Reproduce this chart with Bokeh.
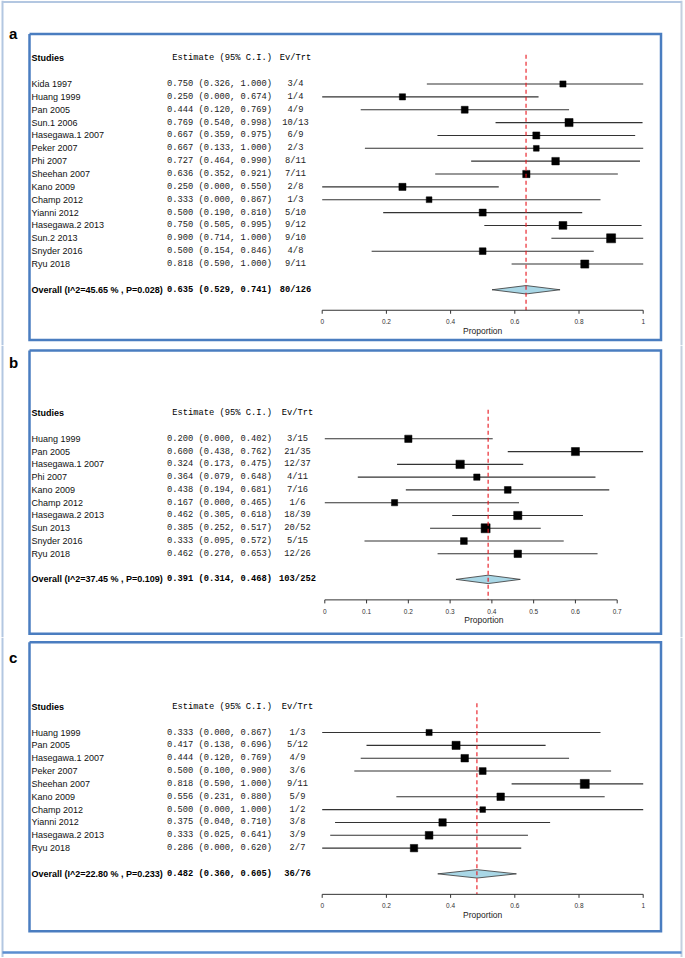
import math
from bokeh.plotting import figure
from bokeh.layouts import column
from bokeh.models import Range1d
from bokeh.core.properties import value
from bokeh.embed import file_html
from bokeh.resources import INLINE

# ---------------- data ----------------
a_studies = ["Kida 1997", "Huang  1999", "Pan  2005", "Sun.1 2006", "Hasegawa.1 2007",
             "Peker 2007", "Phi 2007", "Sheehan 2007", "Kano 2009", "Champ 2012",
             "Yianni 2012", "Hasegawa.2 2013", "Sun.2 2013", "Snyder 2016", "Ryu 2018"]
a_est = [0.750, 0.250, 0.444, 0.769, 0.667, 0.667, 0.727, 0.636, 0.250, 0.333, 0.500, 0.750, 0.900, 0.500, 0.818]
a_lo = [0.326, 0.000, 0.120, 0.540, 0.359, 0.133, 0.464, 0.352, 0.000, 0.000, 0.190, 0.505, 0.714, 0.154, 0.590]
a_hi = [1.000, 0.674, 0.769, 0.998, 0.975, 1.000, 0.990, 0.921, 0.550, 0.867, 0.810, 0.995, 1.000, 0.846, 1.000]
a_ev = [3, 1, 4, 10, 6, 2, 8, 7, 2, 1, 5, 9, 9, 4, 9]
a_n = [4, 4, 9, 13, 9, 3, 11, 11, 8, 3, 10, 12, 10, 8, 11]
a_overall = [0.635, 0.529, 0.741]
a_overall_label = "Overall (I^2=45.65 % , P=0.028)"
a_overall_counts = "80/126"
a_ticks = [0, 0.2, 0.4, 0.6, 0.8, 1.0]
a_tick_labels = ["0", "0.2", "0.4", "0.6", "0.8", "1"]

b_studies = ["Huang 1999", "Pan 2005", "Hasegawa.1 2007", "Phi 2007", "Kano 2009",
             "Champ 2012", "Hasegawa.2 2013", "Sun 2013", "Snyder 2016", "Ryu 2018"]
b_est = [0.200, 0.600, 0.324, 0.364, 0.438, 0.167, 0.462, 0.385, 0.333, 0.462]
b_lo = [0.000, 0.438, 0.173, 0.079, 0.194, 0.000, 0.305, 0.252, 0.095, 0.270]
b_hi = [0.402, 0.762, 0.475, 0.648, 0.681, 0.465, 0.618, 0.517, 0.572, 0.653]
b_ev = [3, 21, 12, 4, 7, 1, 18, 20, 5, 12]
b_n = [15, 35, 37, 11, 16, 6, 39, 52, 15, 26]
b_overall = [0.391, 0.314, 0.468]
b_overall_label = "Overall (I^2=37.45 % , P=0.109)"
b_overall_counts = "103/252"
b_ticks = [0, 0.1, 0.2, 0.3, 0.4, 0.5, 0.6, 0.7]
b_tick_labels = ["0", "0.1", "0.2", "0.3", "0.4", "0.5", "0.6", "0.7"]

c_studies = ["Huang 1999", "Pan  2005", "Hasegawa.1 2007", "Peker 2007", "Sheehan 2007",
             "Kano 2009", "Champ 2012", "Yianni 2012", "Hasegawa.2 2013", "Ryu 2018"]
c_est = [0.333, 0.417, 0.444, 0.500, 0.818, 0.556, 0.500, 0.375, 0.333, 0.286]
c_lo = [0.000, 0.138, 0.120, 0.100, 0.590, 0.231, 0.000, 0.040, 0.025, 0.000]
c_hi = [0.867, 0.696, 0.769, 0.900, 1.000, 0.880, 1.000, 0.710, 0.641, 0.620]
c_ev = [1, 5, 4, 3, 9, 5, 1, 3, 3, 2]
c_n = [3, 12, 9, 6, 11, 9, 2, 8, 9, 7]
c_overall = [0.482, 0.360, 0.605]
c_overall_label = "Overall (I^2=22.80 % , P=0.233)"
c_overall_counts = "36/76"
c_ticks = [0, 0.2, 0.4, 0.6, 0.8, 1.0]
c_tick_labels = ["0", "0.2", "0.4", "0.6", "0.8", "1"]

# ---------------- styling / layout ----------------
W = 685
SANS = value("Liberation Sans")
MONO = value("Liberation Mono")
BOX_COLOR = "#4a7dc0"
FRAME_LIGHT = "#b3c7e1"
FRAME_DARK = "#5b8ed0"


def make_panel(letter, studies, est, lo, hi, ev, n, overall, overall_label, overall_counts,
               ticks, tick_labels, fig_top, fig_h, x0, sx, y_first, dy,
               box_top, box_bottom, letter_base, evtrt_x, draw_top=False, draw_bottom=False):
    def X(px):
        return (px - x0) / sx

    def Y(py):
        return (py - y_first) / dy

    p = figure(width=W, height=fig_h, output_backend="svg", toolbar_location=None,
               title=None, x_axis_type=None, y_axis_type=None, min_border=0,
               x_range=Range1d(X(0), X(W)),
               y_range=Range1d(Y(fig_top + fig_h), Y(fig_top)))
    p.outline_line_color = None
    p.background_fill_color = "white"
    p.border_fill_color = "white"
    p.grid.visible = False

    k = len(studies)
    rows = list(range(k))
    overall_row = k + 1
    axis_row = overall_row + 20.5 / dy

    # outer frame (page border)
    p.line([X(2), X(2)], [Y(fig_top), Y(fig_top + fig_h)], line_color=FRAME_LIGHT, line_width=2)
    p.line([X(681), X(681)], [Y(fig_top), Y(fig_top + fig_h)], line_color="#c4d0df", line_width=2)
    if draw_top:
        p.line([X(2), X(681)], [Y(1.5), Y(1.5)], line_color=FRAME_LIGHT, line_width=2)
    if draw_bottom:
        p.line([X(2), X(681)], [Y(952), Y(952)], line_color=FRAME_DARK, line_width=2.5)

    # panel box
    L, R = X(29), X(660.5)
    T, B = Y(box_top), Y(box_bottom)
    p.line([L, R, R, L, L], [T, T, B, B, T], line_color=BOX_COLOR, line_width=2.5,
           line_join="miter")

    # panel letter
    p.text(x=[X(8.5)], y=[Y(letter_base)], text=[letter], text_font=SANS,
           text_font_size="15px", text_font_style="bold", text_align="left",
           text_baseline="alphabetic", text_color="black")

    # header
    hdr = -2
    p.text(x=[X(31)], y=[hdr], text=["Studies"], text_font=SANS, text_font_size="9px",
           text_font_style="bold", text_align="left", text_baseline="middle")
    p.text(x=[X(271.5)], y=[hdr], text=["Estimate (95% C.I.)"], text_font=MONO,
           text_font_size="8.75px", text_align="right", text_baseline="middle")
    p.text(x=[X(evtrt_x)], y=[hdr], text=["Ev/Trt"], text_font=MONO,
           text_font_size="8.75px", text_align="center", text_baseline="middle")

    # study rows text
    est_txt = ["%.3f (%.3f, %.3f)" % (e, l, h) for e, l, h in zip(est, lo, hi)]
    evn_txt = ["%d/%d" % (a, b) for a, b in zip(ev, n)]
    p.text(x=[X(31)] * k, y=rows, text=studies, text_font=SANS, text_font_size="9px",
           text_align="left", text_baseline="middle", text_color="#111111")
    p.text(x=[X(271.5)] * k, y=rows, text=est_txt, text_font=MONO, text_font_size="8.75px",
           text_align="right", text_baseline="middle", text_color="#222222")
    p.text(x=[X(evtrt_x)] * k, y=rows, text=evn_txt, text_font=MONO, text_font_size="8.75px",
           text_align="center", text_baseline="middle", text_color="#222222")

    # overall row text
    oe, ol, oh = overall
    p.text(x=[X(31)], y=[overall_row], text=[overall_label], text_font=SANS,
           text_font_size="9px", text_font_style="bold", text_align="left",
           text_baseline="middle")
    p.text(x=[X(271.5)], y=[overall_row], text=["%.3f (%.3f, %.3f)" % (oe, ol, oh)],
           text_font=MONO, text_font_size="8.75px", text_font_style="bold",
           text_align="right", text_baseline="middle")
    p.text(x=[X(evtrt_x)], y=[overall_row], text=[overall_counts], text_font=MONO,
           text_font_size="8.75px", text_font_style="bold", text_align="center",
           text_baseline="middle")

    # confidence intervals
    p.segment(x0=lo, y0=rows, x1=hi, y1=rows, line_color="#333333", line_width=1.1)

    # squares sized by inverse-variance weight
    w = [1.0 / (e * (1 - e) / m) for e, m in zip(est, n)]
    wmax = max(w)
    sizes = [4 + 5 * math.sqrt(v / wmax) for v in w]
    p.scatter(x=est, y=rows, marker="square", size=sizes, fill_color="black",
              line_color="black", line_width=0.5)

    # overall diamond
    h = 4.2 / dy
    p.patch(x=[ol, oe, oh, oe], y=[overall_row, overall_row - h, overall_row, overall_row + h],
            fill_color="#a9d7e6", line_color="#333333", line_width=0.8)

    # dashed summary line
    p.line([oe, oe], [hdr - 3.5 / dy, axis_row], line_color="#e8141c", line_width=1.1,
           line_dash="4 3")

    # x axis
    p.line([ticks[0], ticks[-1]], [axis_row, axis_row], line_color="#333333", line_width=1)
    p.segment(x0=ticks, y0=[axis_row] * len(ticks), x1=ticks,
              y1=[axis_row + 3.5 / dy] * len(ticks), line_color="#333333", line_width=1)
    p.text(x=ticks, y=[axis_row + 11.5 / dy] * len(ticks), text=tick_labels, text_font=SANS,
           text_font_size="6.5px", text_align="center", text_baseline="middle",
           text_color="#333333")
    xmid = (min(lo) + max(hi)) / 2
    p.text(x=[xmid], y=[axis_row + 20.5 / dy], text=["Proportion"], text_font=SANS,
           text_font_size="8.5px", text_align="center", text_baseline="middle",
           text_color="#222222")
    return p


pa = make_panel("a", a_studies, a_est, a_lo, a_hi, a_ev, a_n, a_overall, a_overall_label,
                a_overall_counts, a_ticks, a_tick_labels,
                fig_top=0, fig_h=345, x0=321.7, sx=321.0, y_first=83.5, dy=12.86,
                box_top=33.5, box_bottom=339.5, letter_base=33.3, evtrt_x=295, draw_top=True)
pb = make_panel("b", b_studies, b_est, b_lo, b_hi, b_ev, b_n, b_overall, b_overall_label,
                b_overall_counts, b_ticks, b_tick_labels,
                fig_top=345, fig_h=292, x0=324.3, sx=417.7, y_first=438.3, dy=12.78,
                box_top=350, box_bottom=633.3, letter_base=361.7, evtrt_x=297)
pc = make_panel("c", c_studies, c_est, c_lo, c_hi, c_ev, c_n, c_overall, c_overall_label,
                c_overall_counts, c_ticks, c_tick_labels,
                fig_top=637, fig_h=320, x0=321.7, sx=321.0, y_first=732.0, dy=12.85,
                box_top=641.7, box_bottom=930.7, letter_base=656.7, evtrt_x=297,
                draw_bottom=True)

layout = column(pa, pb, pc, spacing=0)
open("out.html", "w").write(file_html(layout, INLINE))
